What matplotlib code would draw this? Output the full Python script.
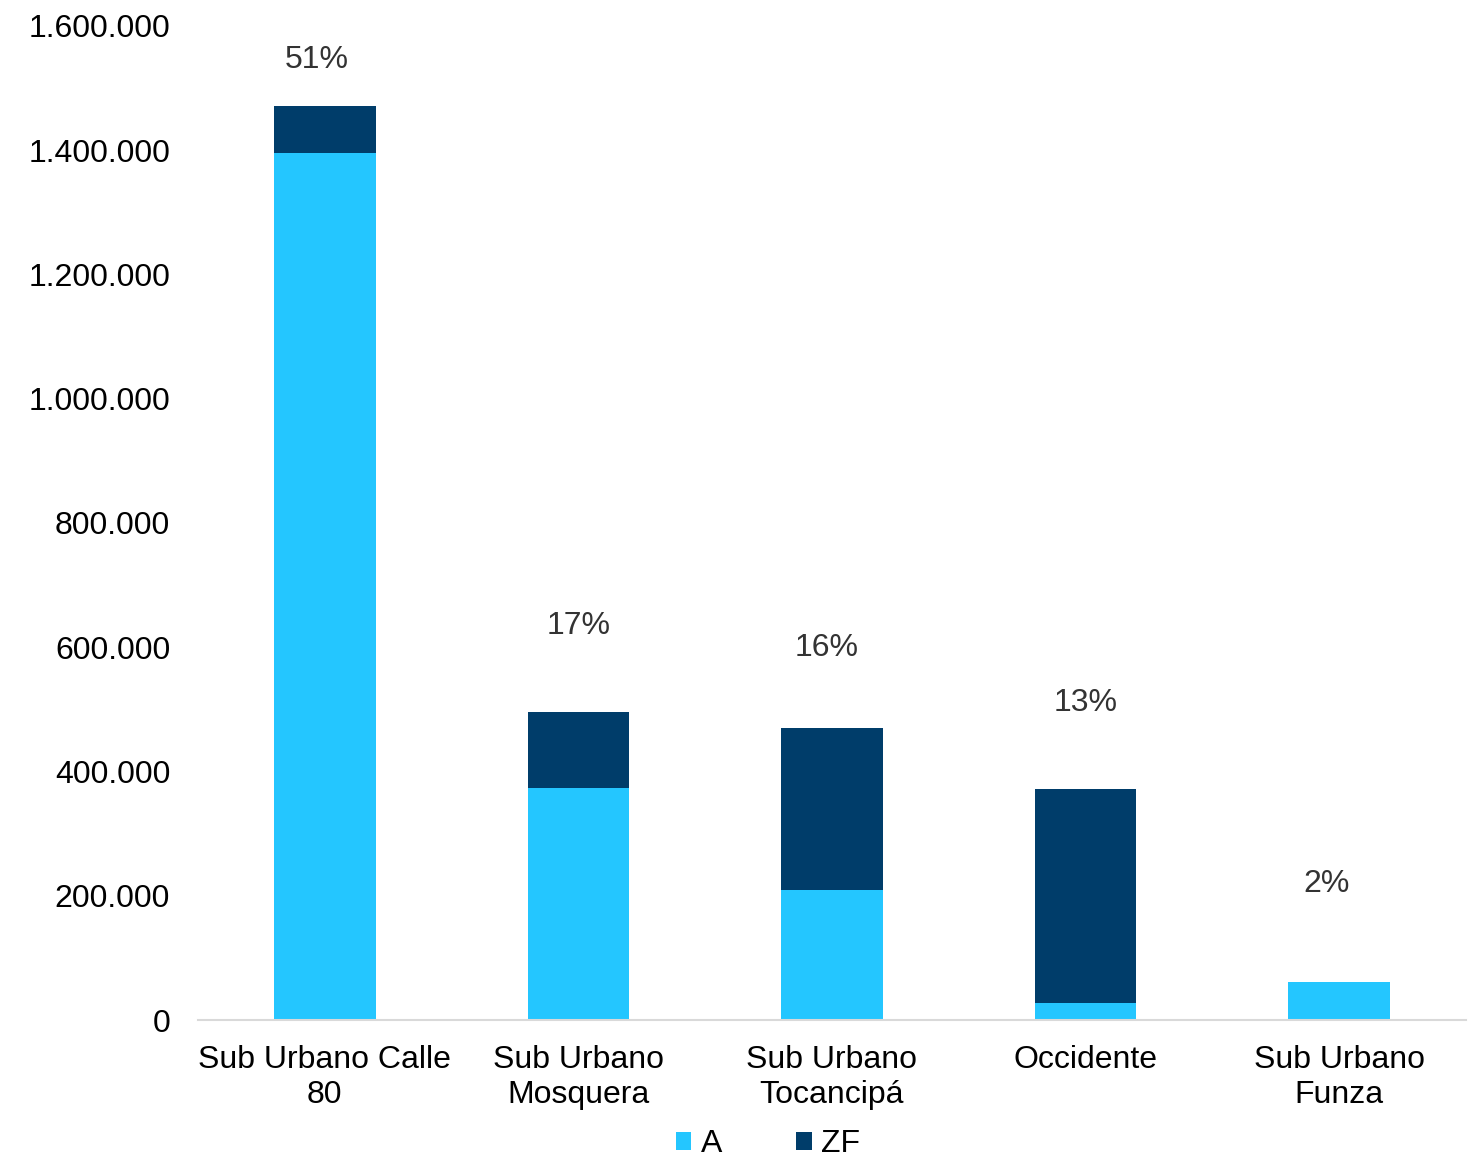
import numpy as np
import matplotlib.pyplot as plt
from matplotlib.ticker import FuncFormatter

plt.rcParams['font.family'] = ['Liberation Sans', 'DejaVu Sans']

categories = ['Sub Urbano Calle\n80', 'Sub Urbano\nMosquera', 'Sub Urbano\nTocancipá',
              'Occidente', 'Sub Urbano\nFunza']
a_vals = [1395000, 373000, 209000, 27000, 61000]
zf_vals = [76000, 123000, 261000, 345000, 0]
pct_labels = ['51%', '17%', '16%', '13%', '2%']
# heights where the share labels sit
pct_y = [1545000, 634000, 599000, 510000, 219000]
pct_dx = [-0.03, 0.0, -0.02, 0.0, -0.05]

c_a = '#24C6FF'
c_zf = '#003D6A'

fig = plt.figure(figsize=(14.76, 11.6), dpi=100)
ax = fig.add_axes([198 / 1476, 1 - 1020 / 1160, 1268 / 1476, 994 / 1160])

x = np.arange(len(categories))
ax.bar(x, a_vals, width=0.4, color=c_a, label='A')
ax.bar(x, zf_vals, width=0.4, bottom=a_vals, color=c_zf, label='ZF')

for i, txt in enumerate(pct_labels):
    ax.text(x[i] + pct_dx[i], pct_y[i], txt, ha='center', va='center',
            fontsize=23, color='#333333')

ax.set_xlim(-0.5, 4.5)
ax.set_ylim(0, 1600000)
ax.set_yticks(np.arange(0, 1600001, 200000))
ax.yaxis.set_major_formatter(FuncFormatter(lambda v, p: '{:,.0f}'.format(v).replace(',', '.')))
ax.set_xticks(x)
ax.set_xticklabels(categories, fontsize=23, linespacing=1.2)
ax.tick_params(axis='y', length=0, labelsize=23, pad=20)
ax.tick_params(axis='x', length=0, pad=18)

for s in ['top', 'right', 'left']:
    ax.spines[s].set_visible(False)
ax.spines['bottom'].set_color('#D9D9D9')
ax.spines['bottom'].set_linewidth(1.5)

fig.legend(loc='center', bbox_to_anchor=(768 / 1476, 1 - 1144 / 1160), ncol=2,
           frameon=False, fontsize=23, handlelength=0.5, handleheight=0.5,
           handletextpad=0.3, columnspacing=2.3)

fig.savefig('out.png', dpi=100)
